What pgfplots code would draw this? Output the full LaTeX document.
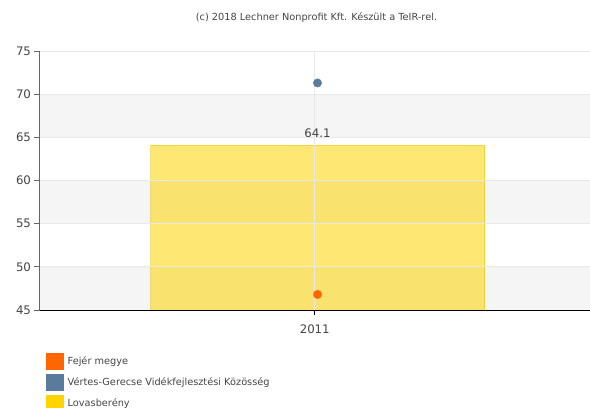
\documentclass[border=0pt]{standalone}
\usepackage{fontspec}
\setmainfont{DejaVu Sans}
\usepackage{pgfplots}
\pgfplotsset{compat=1.18}
\definecolor{fejer}{HTML}{FF6600}
\definecolor{vertes}{HTML}{5B7B9C}
\definecolor{lovas}{HTML}{FFD400}
\definecolor{band}{HTML}{F5F5F5}
\definecolor{gridc}{HTML}{E8E8E8}
\definecolor{txt}{HTML}{444444}
\begin{document}
\begin{tikzpicture}
\useasboundingbox (0bp,0bp) rectangle (590bp,408bp);
\node[font=\fontsize{9.8}{12}\selectfont, text=txt] at (316.5bp,390bp) {(c) 2018 Lechner Nonprofit Kft. Készült a TeIR-rel.};
\begin{axis}[
  axis on top,
  at={(39.5bp,98bp)}, anchor=south west,
  scale only axis, width=550.5bp, height=259bp,
  xmin=-1, xmax=1, ymin=45, ymax=75,
  ytick={45,50,...,75}, xtick={0}, xticklabels={2011},
  axis lines=left, axis line style={-},
  x axis line style={black, line width=0.9bp},
  y axis line style={gray!80!black, line width=0.9bp},
  tick align=outside, major tick length=5bp,
  ytick style={gray!80!black, line width=0.8bp},
  xtick style={black, line width=0.8bp},
  ymajorgrids, xmajorgrids,
  grid style={gridc, line width=0.8bp},
  tick label style={font=\fontsize{11.8}{14}\selectfont, text=txt},
  xticklabel style={yshift=-6bp},
  /pgf/number format/assume math mode=true,
  legend style={at={(axis description cs:0.0118,-0.166)}, anchor=north west, draw=none, fill=none,
    font=\fontsize{9.8}{12}\selectfont, row sep=4bp, column sep=4bp, inner sep=0pt,
    nodes={inner sep=0pt, text=txt}},
  legend cell align=left,
  legend image code/.code={\fill[#1, draw=none] (0bp,-8.5bp) rectangle (17.5bp,8.5bp);},
]
\addplot[fill=band, draw=none, forget plot] coordinates {(-1,65) (1,65) (1,70) (-1,70)} -- cycle;
\addplot[fill=band, draw=none, forget plot] coordinates {(-1,55) (1,55) (1,60) (-1,60)} -- cycle;
\addplot[fill=band, draw=none, forget plot] coordinates {(-1,45) (1,45) (1,50) (-1,50)} -- cycle;
\addplot[ybar, bar width=334bp, fill=lovas, fill opacity=0.55, draw=lovas!90!black, draw opacity=0.5,
  nodes near coords, nodes near coords style={opacity=1, text opacity=1, text=txt, font=\fontsize{11.8}{14}\selectfont, yshift=4bp},
  forget plot] coordinates {(0.01,64.1)};
\addplot[only marks, mark=*, mark size=4.2bp, color=vertes, forget plot] coordinates {(0.01,71.3)};
\addplot[only marks, mark=*, mark size=4.2bp, color=fejer, forget plot] coordinates {(0.01,46.8)};
\addlegendimage{fill=fejer}
\addlegendentry{Fejér megye}
\addlegendimage{fill=vertes}
\addlegendentry{Vértes-Gerecse Vidékfejlesztési Közösség}
\addlegendimage{fill=lovas}
\addlegendentry{Lovasberény}
\end{axis}
\end{tikzpicture}
\end{document}
